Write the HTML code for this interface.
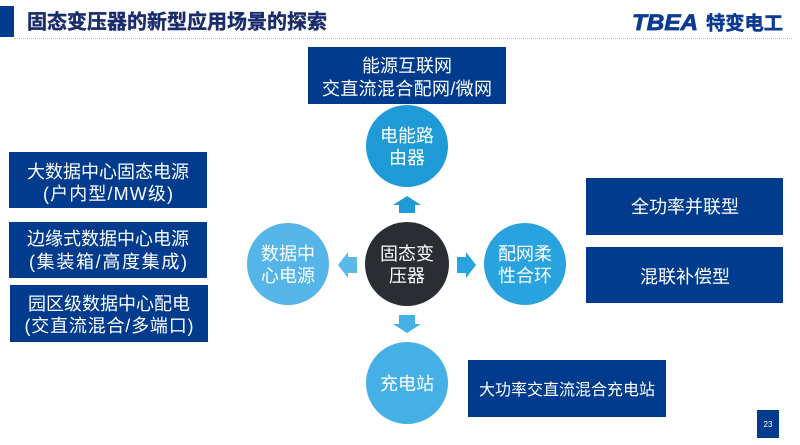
<!DOCTYPE html>
<html><head><meta charset="utf-8"><style>
html,body{margin:0;padding:0;background:#fff;}
svg{display:block;}
text{font-family:"Liberation Sans","Noto Sans CJK SC",sans-serif;}
</style></head><body>
<svg width="800" height="445" viewBox="0 0 800 445" xmlns="http://www.w3.org/2000/svg">
<rect x="0" y="0" width="800" height="445" fill="#fff"/>
<!-- header -->
<rect x="0" y="6" width="14" height="31" fill="#003b8e"/>
<text x="27" y="28.5" font-size="20" font-weight="bold" fill="#1b2c6b" stroke="#1b2c6b" stroke-width="0.4">固态变压器的新型应用场景的探索</text>
<line x1="15" y1="38.5" x2="792" y2="38.5" stroke="#a9bbdc" stroke-width="1" stroke-dasharray="1,1"/>
<text x="632" y="30" font-size="22" font-weight="bold" font-style="italic" fill="#0a3a92" stroke="#0a3a92" stroke-width="0.8" textLength="66" lengthAdjust="spacingAndGlyphs">TBEA</text>
<text x="706" y="29.5" font-size="19" font-weight="bold" fill="#0a3a92" stroke="#0a3a92" stroke-width="0.5" textLength="77" lengthAdjust="spacingAndGlyphs">特变电工</text>

<!-- top box -->
<rect x="308" y="47" width="198" height="57" fill="#003b8e"/>
<text x="407" y="72" font-size="18" fill="#fff" text-anchor="middle">能源互联网</text>
<text x="407" y="95" font-size="18" fill="#fff" text-anchor="middle" textLength="170" lengthAdjust="spacing">交直流混合配网/微网</text>

<!-- circles -->
<circle cx="407" cy="146" r="41" fill="#1e9ad6"/>
<text x="407" y="142" font-size="18" fill="#fff" text-anchor="middle">电能路</text>
<text x="407" y="164" font-size="18" fill="#fff" text-anchor="middle">由器</text>

<circle cx="407" cy="264" r="42" fill="#2a2d31"/>
<text x="407" y="260" font-size="18" fill="#fff" text-anchor="middle">固态变</text>
<text x="407" y="282" font-size="18" fill="#fff" text-anchor="middle">压器</text>

<circle cx="288" cy="264" r="41" fill="#55b5e9"/>
<text x="288" y="260" font-size="18" fill="#fff" text-anchor="middle">数据中</text>
<text x="288" y="282" font-size="18" fill="#fff" text-anchor="middle">心电源</text>

<circle cx="525" cy="264" r="41" fill="#29a3e0"/>
<text x="525" y="260" font-size="18" fill="#fff" text-anchor="middle">配网柔</text>
<text x="525" y="282" font-size="18" fill="#fff" text-anchor="middle">性合环</text>

<circle cx="407" cy="383" r="41" fill="#45b0e6"/>
<text x="407" y="390" font-size="18" fill="#fff" text-anchor="middle">充电站</text>

<!-- arrows -->
<polygon points="407,196 421,205 415,205 415,213 399,213 399,205 393,205" fill="#1e9ad6"/>
<polygon points="407,333 421,324 415,324 415,315 399,315 399,324 393,324" fill="#45b0e6"/>
<polygon points="338,265 348,252 348,257 357,257 357,273 348,273 348,278" fill="#5bb8ea"/>
<polygon points="476,265 466,252 466,257 457,257 457,273 466,273 466,278" fill="#29a3e0"/>

<!-- left boxes -->
<rect x="9" y="152" width="198" height="56" fill="#003b8e"/>
<text x="108" y="178" font-size="18" fill="#fff" text-anchor="middle">大数据中心固态电源</text>
<text x="108" y="200" font-size="18" fill="#fff" text-anchor="middle" textLength="130" lengthAdjust="spacing">(户内型/MW级)</text>

<rect x="9" y="222" width="198" height="56" fill="#003b8e"/>
<text x="108" y="245" font-size="18" fill="#fff" text-anchor="middle">边缘式数据中心电源</text>
<text x="108" y="268" font-size="18" fill="#fff" text-anchor="middle" textLength="158" lengthAdjust="spacing">(集装箱/高度集成)</text>

<rect x="10" y="285" width="198" height="57" fill="#003b8e"/>
<text x="109" y="310" font-size="18" fill="#fff" text-anchor="middle">园区级数据中心配电</text>
<text x="109" y="332" font-size="18" fill="#fff" text-anchor="middle" textLength="169" lengthAdjust="spacing">(交直流混合/多端口)</text>

<!-- right boxes -->
<rect x="586" y="178" width="197" height="57" fill="#003b8e"/>
<text x="685" y="213" font-size="18" fill="#fff" text-anchor="middle">全功率并联型</text>
<rect x="586" y="247" width="197" height="56" fill="#003b8e"/>
<text x="685" y="283" font-size="18" fill="#fff" text-anchor="middle">混联补偿型</text>

<!-- bottom right box -->
<rect x="468" y="360" width="198" height="57" fill="#003b8e"/>
<text x="567" y="395" font-size="16" fill="#fff" text-anchor="middle">大功率交直流混合充电站</text>

<!-- page number -->
<rect x="757" y="410" width="22" height="28" fill="#003b8e"/>
<text x="768" y="427" font-size="8" fill="#fff" text-anchor="middle">23</text>
</svg>
</body></html>
